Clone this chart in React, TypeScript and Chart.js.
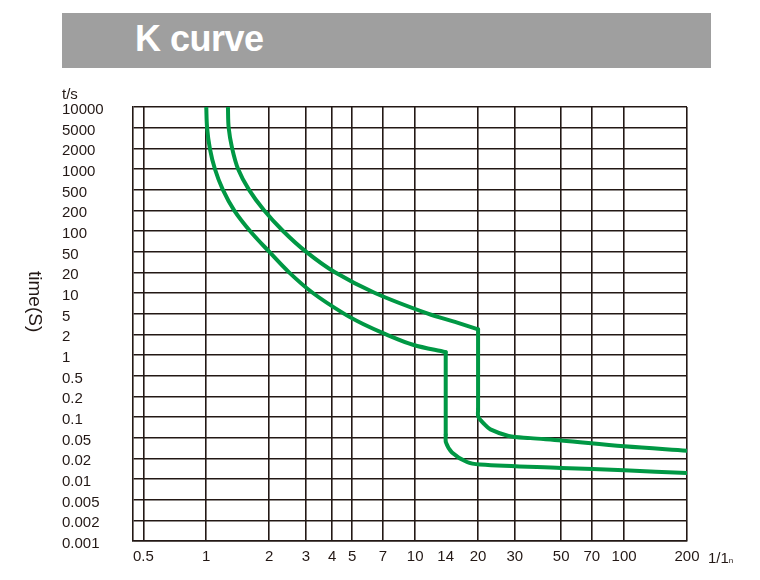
import { useEffect, useRef } from "react";
import { Chart, registerables } from "chart.js";

Chart.register(...registerables);

Chart.defaults.font.family = '"Liberation Sans", Arial, sans-serif';

// time labels on the vertical axis, top to bottom (seconds)
const timeTicks = [10000, 5000, 2000, 1000, 500, 200, 100, 50, 20, 10, 5, 2, 1, 0.5, 0.2, 0.1, 0.05, 0.02, 0.01, 0.005, 0.002, 0.001];
// multiples of rated current on the horizontal axis
const currentTicks = [0.5, 1, 2, 3, 4, 5, 7, 10, 14, 20, 30, 50, 70, 100, 200];

// upper limit curve
const upperX = [1.27, 1.28, 1.33, 1.42, 1.6, 1.89, 2.33, 3.0, 4.13, 6.42, 11.5, 15.5, 20, 20, 20.07, 21.5, 22.9, 28, 35.6, 50, 100, 200];
const upperT = [10000, 5000, 2000, 1000, 500, 200, 100, 50, 20, 10, 5, 3.47, 2.5, 0.13, 0.1, 0.078, 0.066, 0.053, 0.049, 0.044, 0.034, 0.028];

// lower limit curve
const lowerX = [1, 1.009, 1.04, 1.1, 1.2, 1.36, 1.62, 2, 2.49, 3.24, 4.56, 5.63, 7.25, 9.76, 14, 14, 14.05, 15, 17.7, 20.4, 50, 100, 200];
const lowerT = [10000, 5000, 2000, 1000, 500, 200, 100, 50, 20, 10, 5, 3.16, 2, 1.41, 1.1, 0.055, 0.04, 0.026, 0.0177, 0.0163, 0.0145, 0.0134, 0.0122];

const INK = "#231815";
const GREEN = "#009844";

// the time labels are evenly spaced, so seconds go to a (fractional) label row
function timeRow(t: number) {
  for (let i = 0; i < timeTicks.length - 1; i++) {
    const a = timeTicks[i];
    const b = timeTicks[i + 1];
    if (t <= a && t >= b) return i + Math.log(a / t) / Math.log(a / b);
  }
  return t > timeTicks[0] ? 0 : timeTicks.length - 1;
}

// a curve is drawn as: smooth bend, sharp vertical drop (repeated x), smooth tail
function curvePieces(xs: number[], ts: number[]) {
  const pts = xs.map((x, i) => ({ x, y: timeRow(ts[i]) }));
  const k = xs.findIndex((x, i) => i > 0 && x === xs[i - 1]);
  const style = {
    borderColor: GREEN,
    borderWidth: 4,
    pointRadius: 0,
    fill: false,
    borderCapStyle: "round" as const,
    borderJoinStyle: "round" as const,
  };
  return [
    { ...style, data: pts.slice(0, k), tension: 0.35 },
    { ...style, data: pts.slice(k - 1, k + 1), tension: 0 },
    { ...style, data: pts.slice(k), tension: 0.35 },
  ];
}

export default function App() {
  const canvasRef = useRef<HTMLCanvasElement>(null);
  const chartRef = useRef<Chart | null>(null);

  useEffect(() => {
    if (!canvasRef.current) return;
    if (chartRef.current) chartRef.current.destroy();

    chartRef.current = new Chart(canvasRef.current, {
      type: "line",
      data: {
        datasets: [...curvePieces(upperX, upperT), ...curvePieces(lowerX, lowerT)],
      },
      options: {
        animation: false,
        responsive: true,
        maintainAspectRatio: false,
        events: [],
        layout: { padding: { left: 62, right: 73, top: 107, bottom: 0 } },
        plugins: {
          legend: { display: false },
          tooltip: { enabled: false },
        },
        scales: {
          x: {
            type: "logarithmic",
            min: 0.446,
            max: 200,
            afterBuildTicks: (s: any) => {
              s.ticks = currentTicks.map((value) => ({ value }));
            },
            afterFit: (s: any) => {
              s.height = 39;
            },
            ticks: {
              autoSkip: false,
              maxRotation: 0,
              padding: 7,
              color: INK,
              font: { size: 15 },
              callback: (v: any) => String(v),
            },
            grid: {
              color: (c: any) => (c.tick && c.tick.value === 14 ? "rgba(0,0,0,0)" : INK),
              lineWidth: 1.6,
              drawTicks: false,
            },
            border: { color: INK, width: 1.6 },
          },
          y: {
            type: "linear",
            min: 0,
            max: timeTicks.length - 1,
            reverse: true,
            afterBuildTicks: (s: any) => {
              s.ticks = timeTicks.map((_, i) => ({ value: i }));
            },
            afterFit: (s: any) => {
              s.width = 71;
            },
            ticks: {
              autoSkip: false,
              crossAlign: "far",
              labelOffset: 3,
              color: INK,
              font: { size: 15 },
              callback: (v: any) => String(timeTicks[v]),
            },
            grid: { color: INK, lineWidth: 1.6, drawTicks: false },
            border: { color: INK, width: 1.6 },
          },
        },
      },
    });

    return () => {
      if (chartRef.current) {
        chartRef.current.destroy();
        chartRef.current = null;
      }
    };
  }, []);

  return (
    <div
      style={{
        position: "fixed",
        left: 0,
        top: 0,
        width: 760,
        height: 580,
        background: "#fff",
        fontFamily: '"Liberation Sans", Arial, sans-serif',
        color: INK,
      }}
    >
      <div style={{ position: "absolute", left: 0, top: 0, width: 760, height: 580 }}>
        <canvas ref={canvasRef} />
      </div>
      <div
        style={{
          position: "absolute",
          left: 62,
          top: 13,
          width: 649,
          height: 55,
          background: "#9f9f9f",
        }}
      >
        <span
          style={{
            position: "absolute",
            left: 73,
            top: 0,
            lineHeight: "52px",
            fontSize: 36,
            fontWeight: 700,
            color: "#fff",
            letterSpacing: -0.5,
          }}
        >
          K curve
        </span>
      </div>
      <div style={{ position: "absolute", left: 62, top: 85, fontSize: 15, lineHeight: "17px" }}>t/s</div>
      <div
        style={{
          position: "absolute",
          left: 25,
          top: 271,
          fontSize: 19,
          lineHeight: "20px",
          writingMode: "vertical-rl",
        }}
      >
        time(S)
      </div>
      <div style={{ position: "absolute", left: 708, top: 549, fontSize: 15, lineHeight: "17px" }}>
        1/1<span style={{ fontSize: 8 }}>n</span>
      </div>
    </div>
  );
}
